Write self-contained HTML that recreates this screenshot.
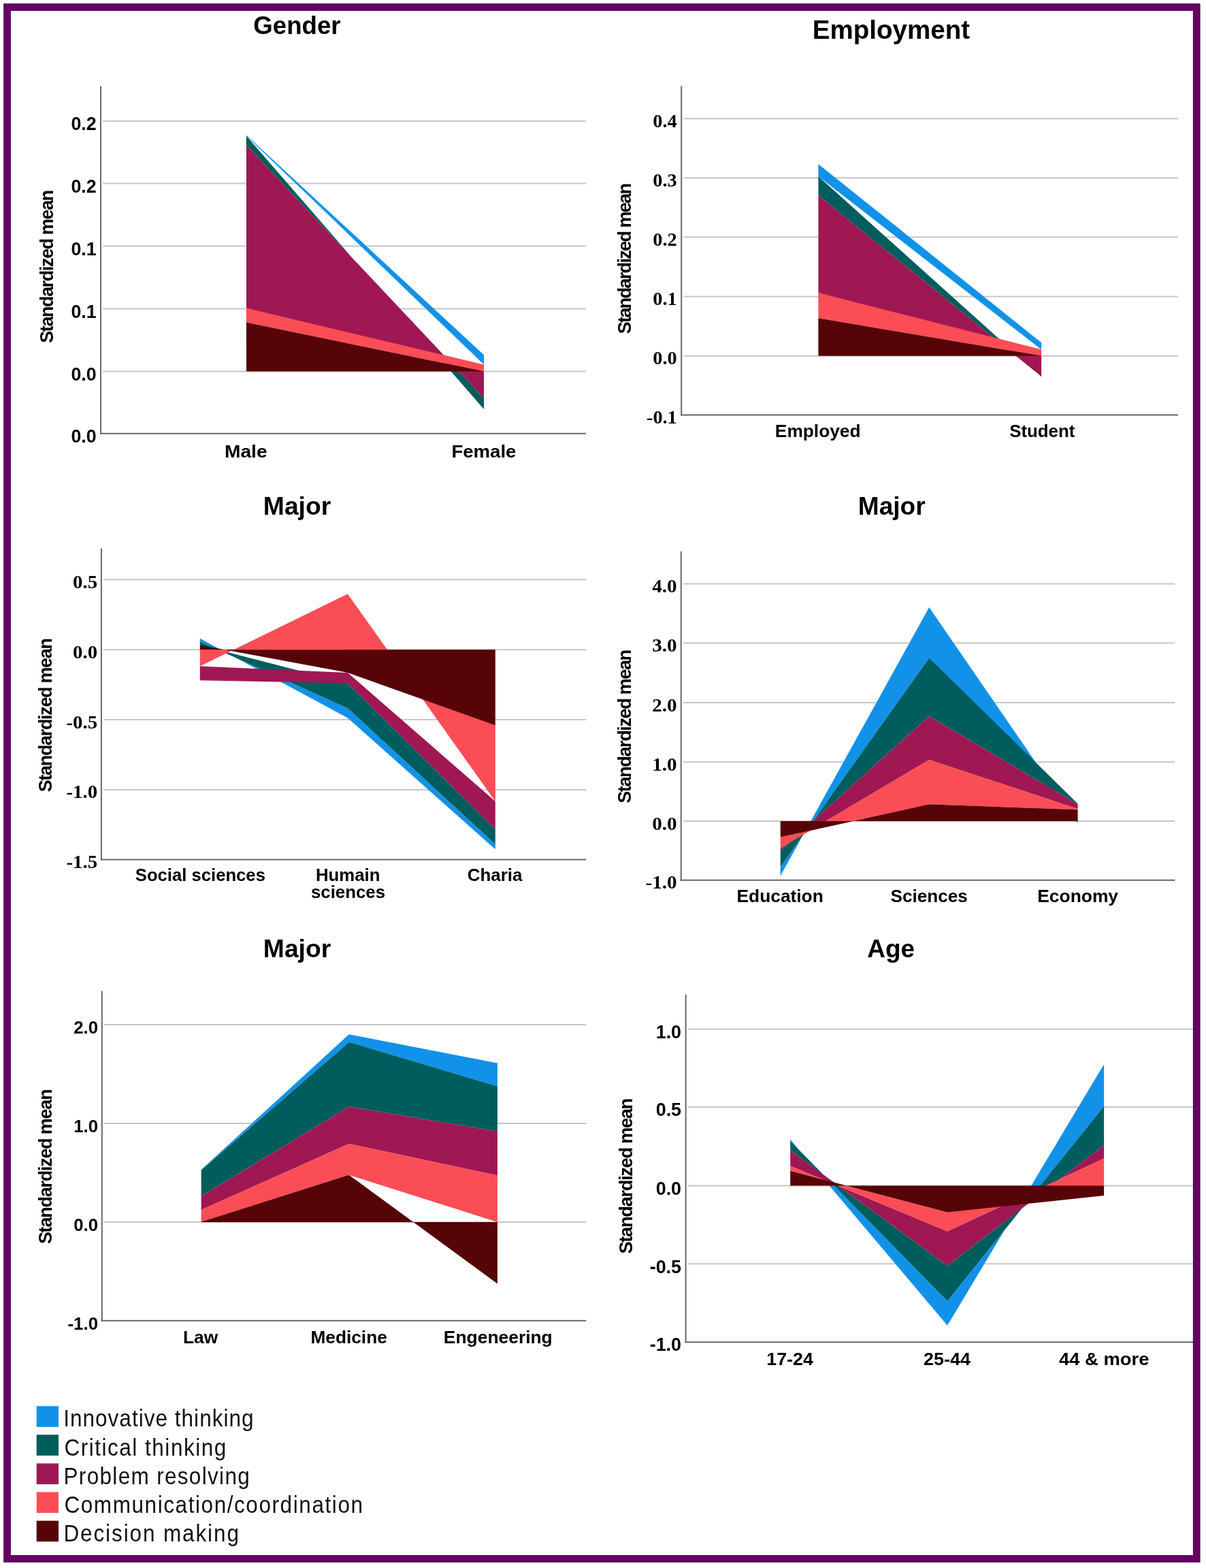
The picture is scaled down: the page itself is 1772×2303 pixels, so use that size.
<!DOCTYPE html>
<html lang="en">
<head>
<meta charset="utf-8">
<title>Standardized means of thinking skills by Gender, Employment, Major and Age</title>
<style>
html,body{margin:0;padding:0;background:#fff;}
body{width:1772px;height:2303px;overflow:hidden;}
svg{display:block;}
text{white-space:pre;}
</style>
</head>
<body>
<svg width="1772" height="2303" viewBox="0 0 1772 2303">
<rect x="0" y="0" width="1772" height="2303" fill="#ffffff"/>
<line x1="151.00" y1="177.70" x2="861.00" y2="177.70" stroke="#c6c6c6" stroke-width="2"/>
<line x1="151.00" y1="269.60" x2="861.00" y2="269.60" stroke="#c6c6c6" stroke-width="2"/>
<line x1="151.00" y1="361.50" x2="861.00" y2="361.50" stroke="#c6c6c6" stroke-width="2"/>
<line x1="151.00" y1="453.40" x2="861.00" y2="453.40" stroke="#c6c6c6" stroke-width="2"/>
<line x1="151.00" y1="545.50" x2="861.00" y2="545.50" stroke="#c6c6c6" stroke-width="2"/>
<polygon points="361.90,198.40 711.00,521.30 711.00,535.50 361.90,199.60" fill="#1192e8"/>
<polygon points="361.90,199.60 711.00,601.10 711.00,584.50 361.90,213.30" fill="#005d5d"/>
<polygon points="361.90,213.30 711.00,584.50 711.00,545.50 361.90,452.50" fill="#9f1853"/>
<polygon points="361.90,452.50 711.00,535.50 711.00,545.50 361.90,473.60" fill="#fa4d56"/>
<polygon points="361.90,473.60 711.00,545.50 711.00,545.50 361.90,545.50" fill="#570408"/>
<line x1="148.00" y1="126.70" x2="148.00" y2="637.80" stroke="#666666" stroke-width="2"/>
<line x1="147.00" y1="636.80" x2="861.00" y2="636.80" stroke="#666666" stroke-width="2"/>
<text x="104.44" y="191.10" font-family='"Liberation Sans", Arial, sans-serif' font-weight="bold" font-size="26.80" textLength="37.26" lengthAdjust="spacingAndGlyphs" fill="#000">0.2</text>
<text x="104.44" y="283.00" font-family='"Liberation Sans", Arial, sans-serif' font-weight="bold" font-size="26.80" textLength="37.26" lengthAdjust="spacingAndGlyphs" fill="#000">0.2</text>
<text x="104.44" y="374.90" font-family='"Liberation Sans", Arial, sans-serif' font-weight="bold" font-size="26.80" textLength="37.26" lengthAdjust="spacingAndGlyphs" fill="#000">0.1</text>
<text x="104.44" y="466.80" font-family='"Liberation Sans", Arial, sans-serif' font-weight="bold" font-size="26.80" textLength="37.26" lengthAdjust="spacingAndGlyphs" fill="#000">0.1</text>
<text x="104.44" y="558.90" font-family='"Liberation Sans", Arial, sans-serif' font-weight="bold" font-size="26.80" textLength="37.26" lengthAdjust="spacingAndGlyphs" fill="#000">0.0</text>
<text x="104.44" y="650.20" font-family='"Liberation Sans", Arial, sans-serif' font-weight="bold" font-size="26.80" textLength="37.26" lengthAdjust="spacingAndGlyphs" fill="#000">0.0</text>
<text x="372.33" y="49.50" font-family='"Liberation Sans", Arial, sans-serif' font-weight="bold" font-size="36.50" textLength="128.25" lengthAdjust="spacingAndGlyphs" fill="#000">Gender</text>
<text x="0" y="0" transform="translate(78.00 503.81) rotate(-90)" font-family='"Liberation Sans", Arial, sans-serif' font-weight="bold" font-size="26.90" textLength="225.00" lengthAdjust="spacing" fill="#000">Standardized mean</text>
<text x="329.97" y="671.60" font-family='"Liberation Sans", Arial, sans-serif' font-weight="bold" font-size="26.50" textLength="62.61" lengthAdjust="spacingAndGlyphs" fill="#000">Male</text>
<text x="663.41" y="671.60" font-family='"Liberation Sans", Arial, sans-serif' font-weight="bold" font-size="26.50" textLength="94.99" lengthAdjust="spacingAndGlyphs" fill="#000">Female</text>
<line x1="1004.20" y1="174.20" x2="1731.00" y2="174.20" stroke="#c6c6c6" stroke-width="2"/>
<line x1="1004.20" y1="261.30" x2="1731.00" y2="261.30" stroke="#c6c6c6" stroke-width="2"/>
<line x1="1004.20" y1="348.20" x2="1731.00" y2="348.20" stroke="#c6c6c6" stroke-width="2"/>
<line x1="1004.20" y1="435.50" x2="1731.00" y2="435.50" stroke="#c6c6c6" stroke-width="2"/>
<line x1="1004.20" y1="522.70" x2="1731.00" y2="522.70" stroke="#c6c6c6" stroke-width="2"/>
<polygon points="1202.40,241.00 1530.10,503.20 1530.10,513.40 1202.40,259.00" fill="#1192e8"/>
<polygon points="1202.40,259.00 1530.10,553.50 1530.10,552.90 1202.40,287.00" fill="#005d5d"/>
<polygon points="1202.40,287.00 1530.10,552.90 1530.10,522.70 1202.40,430.00" fill="#9f1853"/>
<polygon points="1202.40,430.00 1530.10,513.40 1530.10,522.70 1202.40,467.30" fill="#fa4d56"/>
<polygon points="1202.40,467.30 1530.10,522.70 1530.10,522.70 1202.40,522.70" fill="#570408"/>
<line x1="1001.20" y1="126.60" x2="1001.20" y2="610.60" stroke="#666666" stroke-width="2"/>
<line x1="1000.20" y1="609.60" x2="1731.00" y2="609.60" stroke="#666666" stroke-width="2"/>
<text x="959.39" y="186.70" font-family='"Liberation Serif", "Times New Roman", serif' font-weight="bold" font-size="27.50" textLength="35.41" lengthAdjust="spacingAndGlyphs" fill="#000">0.4</text>
<text x="959.39" y="273.80" font-family='"Liberation Serif", "Times New Roman", serif' font-weight="bold" font-size="27.50" textLength="35.41" lengthAdjust="spacingAndGlyphs" fill="#000">0.3</text>
<text x="959.39" y="360.70" font-family='"Liberation Serif", "Times New Roman", serif' font-weight="bold" font-size="27.50" textLength="35.41" lengthAdjust="spacingAndGlyphs" fill="#000">0.2</text>
<text x="959.39" y="448.00" font-family='"Liberation Serif", "Times New Roman", serif' font-weight="bold" font-size="27.50" textLength="35.41" lengthAdjust="spacingAndGlyphs" fill="#000">0.1</text>
<text x="959.39" y="535.20" font-family='"Liberation Serif", "Times New Roman", serif' font-weight="bold" font-size="27.50" textLength="35.41" lengthAdjust="spacingAndGlyphs" fill="#000">0.0</text>
<text x="949.96" y="622.10" font-family='"Liberation Serif", "Times New Roman", serif' font-weight="bold" font-size="27.50" textLength="44.84" lengthAdjust="spacingAndGlyphs" fill="#000">-0.1</text>
<text x="1193.80" y="57.10" font-family='"Liberation Sans", Arial, sans-serif' font-weight="bold" font-size="38.50" textLength="231.23" lengthAdjust="spacingAndGlyphs" fill="#000">Employment</text>
<text x="0" y="0" transform="translate(927.40 490.52) rotate(-90)" font-family='"Liberation Sans", Arial, sans-serif' font-weight="bold" font-size="27.40" textLength="221.74" lengthAdjust="spacing" fill="#000">Standardized mean</text>
<text x="1138.89" y="642.00" font-family='"Liberation Sans", Arial, sans-serif' font-weight="bold" font-size="25.80" textLength="125.69" lengthAdjust="spacingAndGlyphs" fill="#000">Employed</text>
<text x="1483.23" y="642.00" font-family='"Liberation Sans", Arial, sans-serif' font-weight="bold" font-size="25.80" textLength="96.08" lengthAdjust="spacingAndGlyphs" fill="#000">Student</text>
<line x1="151.90" y1="851.30" x2="861.30" y2="851.30" stroke="#c6c6c6" stroke-width="2"/>
<line x1="151.90" y1="954.30" x2="861.30" y2="954.30" stroke="#c6c6c6" stroke-width="2"/>
<line x1="151.90" y1="1057.10" x2="861.30" y2="1057.10" stroke="#c6c6c6" stroke-width="2"/>
<line x1="151.90" y1="1160.00" x2="861.30" y2="1160.00" stroke="#c6c6c6" stroke-width="2"/>
<polygon points="293.80,937.70 510.90,1054.40 727.80,1247.60 727.80,1239.90 510.90,1040.30 293.80,942.30" fill="#1192e8"/>
<polygon points="293.80,942.30 510.90,1040.30 727.80,1239.90 727.80,1218.00 510.90,1003.60 293.80,947.40" fill="#005d5d"/>
<polygon points="293.80,999.30 510.90,1003.60 727.80,1218.00 727.80,1177.00 510.90,988.00 293.80,978.50" fill="#9f1853"/>
<polygon points="293.80,978.50 510.90,872.40 727.80,1177.00 727.80,1065.30 510.90,954.30 293.80,954.30" fill="#fa4d56"/>
<polygon points="293.80,947.40 510.90,988.00 727.80,1065.30 727.80,954.30 510.90,954.30 293.80,954.30" fill="#570408"/>
<line x1="148.90" y1="805.50" x2="148.90" y2="1263.50" stroke="#666666" stroke-width="2"/>
<line x1="147.90" y1="1262.50" x2="861.30" y2="1262.50" stroke="#666666" stroke-width="2"/>
<text x="107.11" y="863.70" font-family='"Liberation Serif", "Times New Roman", serif' font-weight="bold" font-size="27.50" textLength="36.09" lengthAdjust="spacingAndGlyphs" fill="#000">0.5</text>
<text x="107.11" y="966.70" font-family='"Liberation Serif", "Times New Roman", serif' font-weight="bold" font-size="27.50" textLength="36.09" lengthAdjust="spacingAndGlyphs" fill="#000">0.0</text>
<text x="97.49" y="1069.50" font-family='"Liberation Serif", "Times New Roman", serif' font-weight="bold" font-size="27.50" textLength="45.71" lengthAdjust="spacingAndGlyphs" fill="#000">-0.5</text>
<text x="97.49" y="1172.40" font-family='"Liberation Serif", "Times New Roman", serif' font-weight="bold" font-size="27.50" textLength="45.71" lengthAdjust="spacingAndGlyphs" fill="#000">-1.0</text>
<text x="97.49" y="1274.90" font-family='"Liberation Serif", "Times New Roman", serif' font-weight="bold" font-size="27.50" textLength="45.71" lengthAdjust="spacingAndGlyphs" fill="#000">-1.5</text>
<text x="386.88" y="755.60" font-family='"Liberation Sans", Arial, sans-serif' font-weight="bold" font-size="36.50" textLength="99.27" lengthAdjust="spacingAndGlyphs" fill="#000">Major</text>
<text x="0" y="0" transform="translate(75.80 1163.21) rotate(-90)" font-family='"Liberation Sans", Arial, sans-serif' font-weight="bold" font-size="26.90" textLength="226.10" lengthAdjust="spacing" fill="#000">Standardized mean</text>
<text x="198.83" y="1293.60" font-family='"Liberation Sans", Arial, sans-serif' font-weight="bold" font-size="25.60" textLength="191.08" lengthAdjust="spacingAndGlyphs" fill="#000">Social sciences</text>
<text x="464.03" y="1293.60" font-family='"Liberation Sans", Arial, sans-serif' font-weight="bold" font-size="25.60" textLength="94.37" lengthAdjust="spacingAndGlyphs" fill="#000">Humain</text>
<text x="457.00" y="1318.60" font-family='"Liberation Sans", Arial, sans-serif' font-weight="bold" font-size="25.60" textLength="109.05" lengthAdjust="spacingAndGlyphs" fill="#000">sciences</text>
<text x="686.87" y="1293.60" font-family='"Liberation Sans", Arial, sans-serif' font-weight="bold" font-size="25.60" textLength="80.44" lengthAdjust="spacingAndGlyphs" fill="#000">Charia</text>
<line x1="1003.70" y1="857.50" x2="1726.20" y2="857.50" stroke="#c6c6c6" stroke-width="2"/>
<line x1="1003.70" y1="944.60" x2="1726.20" y2="944.60" stroke="#c6c6c6" stroke-width="2"/>
<line x1="1003.70" y1="1032.00" x2="1726.20" y2="1032.00" stroke="#c6c6c6" stroke-width="2"/>
<line x1="1003.70" y1="1119.30" x2="1726.20" y2="1119.30" stroke="#c6c6c6" stroke-width="2"/>
<line x1="1003.70" y1="1206.00" x2="1726.20" y2="1206.00" stroke="#c6c6c6" stroke-width="2"/>
<polygon points="1146.70,1286.40 1365.20,892.10 1583.60,1209.30 1583.60,1206.00 1365.20,966.40 1146.70,1273.30" fill="#1192e8"/>
<polygon points="1146.70,1273.30 1365.20,966.40 1583.60,1180.50 1583.60,1181.20 1365.20,1052.00 1146.70,1248.90" fill="#005d5d"/>
<polygon points="1146.70,1248.90 1365.20,1052.00 1583.60,1181.20 1583.60,1188.10 1365.20,1115.90 1146.70,1245.70" fill="#9f1853"/>
<polygon points="1146.70,1245.70 1365.20,1115.90 1583.60,1188.10 1583.60,1189.30 1365.20,1181.30 1146.70,1229.60" fill="#fa4d56"/>
<polygon points="1146.70,1229.60 1365.20,1181.30 1583.60,1189.30 1583.60,1206.00 1365.20,1206.00 1146.70,1206.00" fill="#570408"/>
<line x1="1000.70" y1="809.70" x2="1000.70" y2="1293.80" stroke="#666666" stroke-width="2"/>
<line x1="999.70" y1="1292.80" x2="1726.20" y2="1292.80" stroke="#666666" stroke-width="2"/>
<text x="958.26" y="870.00" font-family='"Liberation Serif", "Times New Roman", serif' font-weight="bold" font-size="27.50" textLength="36.44" lengthAdjust="spacingAndGlyphs" fill="#000">4.0</text>
<text x="958.26" y="957.10" font-family='"Liberation Serif", "Times New Roman", serif' font-weight="bold" font-size="27.50" textLength="36.44" lengthAdjust="spacingAndGlyphs" fill="#000">3.0</text>
<text x="958.26" y="1044.50" font-family='"Liberation Serif", "Times New Roman", serif' font-weight="bold" font-size="27.50" textLength="36.44" lengthAdjust="spacingAndGlyphs" fill="#000">2.0</text>
<text x="958.26" y="1131.80" font-family='"Liberation Serif", "Times New Roman", serif' font-weight="bold" font-size="27.50" textLength="36.44" lengthAdjust="spacingAndGlyphs" fill="#000">1.0</text>
<text x="958.26" y="1218.50" font-family='"Liberation Serif", "Times New Roman", serif' font-weight="bold" font-size="27.50" textLength="36.44" lengthAdjust="spacingAndGlyphs" fill="#000">0.0</text>
<text x="948.55" y="1305.30" font-family='"Liberation Serif", "Times New Roman", serif' font-weight="bold" font-size="27.50" textLength="46.15" lengthAdjust="spacingAndGlyphs" fill="#000">-1.0</text>
<text x="1260.89" y="755.80" font-family='"Liberation Sans", Arial, sans-serif' font-weight="bold" font-size="36.50" textLength="98.75" lengthAdjust="spacingAndGlyphs" fill="#000">Major</text>
<text x="0" y="0" transform="translate(927.40 1179.82) rotate(-90)" font-family='"Liberation Sans", Arial, sans-serif' font-weight="bold" font-size="27.20" textLength="226.02" lengthAdjust="spacing" fill="#000">Standardized mean</text>
<text x="1082.59" y="1325.40" font-family='"Liberation Sans", Arial, sans-serif' font-weight="bold" font-size="25.80" textLength="127.15" lengthAdjust="spacingAndGlyphs" fill="#000">Education</text>
<text x="1308.52" y="1325.40" font-family='"Liberation Sans", Arial, sans-serif' font-weight="bold" font-size="25.80" textLength="113.27" lengthAdjust="spacingAndGlyphs" fill="#000">Sciences</text>
<text x="1524.28" y="1325.40" font-family='"Liberation Sans", Arial, sans-serif' font-weight="bold" font-size="25.80" textLength="118.78" lengthAdjust="spacingAndGlyphs" fill="#000">Economy</text>
<line x1="152.80" y1="1505.00" x2="861.30" y2="1505.00" stroke="#c6c6c6" stroke-width="2"/>
<line x1="152.80" y1="1650.10" x2="861.30" y2="1650.10" stroke="#c6c6c6" stroke-width="2"/>
<line x1="152.80" y1="1794.90" x2="861.30" y2="1794.90" stroke="#c6c6c6" stroke-width="2"/>
<polygon points="295.60,1718.10 512.80,1519.20 730.90,1561.50 730.90,1595.60 512.80,1530.50 295.60,1719.10" fill="#1192e8"/>
<polygon points="295.60,1719.10 512.80,1530.50 730.90,1595.60 730.90,1661.80 512.80,1625.60 295.60,1756.90" fill="#005d5d"/>
<polygon points="295.60,1756.90 512.80,1625.60 730.90,1661.80 730.90,1726.50 512.80,1680.00 295.60,1777.10" fill="#9f1853"/>
<polygon points="295.60,1777.10 512.80,1680.00 730.90,1726.50 730.90,1794.90 512.80,1725.70 295.60,1794.60" fill="#fa4d56"/>
<polygon points="295.60,1794.60 512.80,1725.70 730.90,1885.50 730.90,1794.90 512.80,1794.90 295.60,1794.90" fill="#570408"/>
<line x1="149.80" y1="1455.50" x2="149.80" y2="1940.80" stroke="#666666" stroke-width="2"/>
<line x1="148.80" y1="1939.80" x2="861.30" y2="1939.80" stroke="#666666" stroke-width="2"/>
<text x="108.13" y="1517.90" font-family='"Liberation Sans", Arial, sans-serif' font-weight="bold" font-size="26.60" textLength="35.87" lengthAdjust="spacingAndGlyphs" fill="#000">2.0</text>
<text x="108.13" y="1663.00" font-family='"Liberation Sans", Arial, sans-serif' font-weight="bold" font-size="26.60" textLength="35.87" lengthAdjust="spacingAndGlyphs" fill="#000">1.0</text>
<text x="108.13" y="1807.80" font-family='"Liberation Sans", Arial, sans-serif' font-weight="bold" font-size="26.60" textLength="35.87" lengthAdjust="spacingAndGlyphs" fill="#000">0.0</text>
<text x="99.54" y="1952.70" font-family='"Liberation Sans", Arial, sans-serif' font-weight="bold" font-size="26.60" textLength="44.46" lengthAdjust="spacingAndGlyphs" fill="#000">-1.0</text>
<text x="386.88" y="1405.60" font-family='"Liberation Sans", Arial, sans-serif' font-weight="bold" font-size="36.50" textLength="99.27" lengthAdjust="spacingAndGlyphs" fill="#000">Major</text>
<text x="0" y="0" transform="translate(76.00 1827.11) rotate(-90)" font-family='"Liberation Sans", Arial, sans-serif' font-weight="bold" font-size="26.90" textLength="227.70" lengthAdjust="spacing" fill="#000">Standardized mean</text>
<text x="268.98" y="1972.90" font-family='"Liberation Sans", Arial, sans-serif' font-weight="bold" font-size="25.80" textLength="51.41" lengthAdjust="spacingAndGlyphs" fill="#000">Law</text>
<text x="456.49" y="1972.90" font-family='"Liberation Sans", Arial, sans-serif' font-weight="bold" font-size="25.80" textLength="112.30" lengthAdjust="spacingAndGlyphs" fill="#000">Medicine</text>
<text x="651.88" y="1972.90" font-family='"Liberation Sans", Arial, sans-serif' font-weight="bold" font-size="25.80" textLength="159.88" lengthAdjust="spacingAndGlyphs" fill="#000">Engeneering</text>
<line x1="1010.60" y1="1511.40" x2="1753.00" y2="1511.40" stroke="#c6c6c6" stroke-width="2"/>
<line x1="1010.60" y1="1625.90" x2="1753.00" y2="1625.90" stroke="#c6c6c6" stroke-width="2"/>
<line x1="1010.60" y1="1741.50" x2="1753.00" y2="1741.50" stroke="#c6c6c6" stroke-width="2"/>
<line x1="1010.60" y1="1856.30" x2="1753.00" y2="1856.30" stroke="#c6c6c6" stroke-width="2"/>
<polygon points="1161.20,1673.50 1392.00,1946.80 1622.10,1563.20 1622.10,1624.70 1392.00,1911.00 1161.20,1676.00" fill="#1192e8"/>
<polygon points="1161.20,1676.00 1392.00,1911.00 1622.10,1624.70 1622.10,1682.10 1392.00,1858.90 1161.20,1689.80" fill="#005d5d"/>
<polygon points="1161.20,1689.80 1392.00,1858.90 1622.10,1682.10 1622.10,1701.60 1392.00,1808.40 1161.20,1712.50" fill="#9f1853"/>
<polygon points="1161.20,1712.50 1392.00,1808.40 1622.10,1701.60 1622.10,1741.50 1392.00,1780.50 1161.20,1719.80" fill="#fa4d56"/>
<polygon points="1161.20,1719.80 1392.00,1780.50 1622.10,1756.00 1622.10,1741.50 1392.00,1741.50 1161.20,1741.50" fill="#570408"/>
<line x1="1007.60" y1="1460.80" x2="1007.60" y2="1972.20" stroke="#666666" stroke-width="2"/>
<line x1="1006.60" y1="1971.20" x2="1753.00" y2="1971.20" stroke="#666666" stroke-width="2"/>
<text x="963.67" y="1524.60" font-family='"Liberation Sans", Arial, sans-serif' font-weight="bold" font-size="27.20" textLength="37.43" lengthAdjust="spacingAndGlyphs" fill="#000">1.0</text>
<text x="963.67" y="1639.10" font-family='"Liberation Sans", Arial, sans-serif' font-weight="bold" font-size="27.20" textLength="37.43" lengthAdjust="spacingAndGlyphs" fill="#000">0.5</text>
<text x="963.67" y="1754.70" font-family='"Liberation Sans", Arial, sans-serif' font-weight="bold" font-size="27.20" textLength="37.43" lengthAdjust="spacingAndGlyphs" fill="#000">0.0</text>
<text x="954.70" y="1869.50" font-family='"Liberation Sans", Arial, sans-serif' font-weight="bold" font-size="27.20" textLength="46.40" lengthAdjust="spacingAndGlyphs" fill="#000">-0.5</text>
<text x="954.70" y="1984.40" font-family='"Liberation Sans", Arial, sans-serif' font-weight="bold" font-size="27.20" textLength="46.40" lengthAdjust="spacingAndGlyphs" fill="#000">-1.0</text>
<text x="1274.28" y="1405.60" font-family='"Liberation Sans", Arial, sans-serif' font-weight="bold" font-size="36.50" textLength="69.68" lengthAdjust="spacingAndGlyphs" fill="#000">Age</text>
<text x="0" y="0" transform="translate(929.30 1841.52) rotate(-90)" font-family='"Liberation Sans", Arial, sans-serif' font-weight="bold" font-size="27.40" textLength="228.84" lengthAdjust="spacing" fill="#000">Standardized mean</text>
<text x="1126.29" y="2005.00" font-family='"Liberation Sans", Arial, sans-serif' font-weight="bold" font-size="25.80" textLength="68.51" lengthAdjust="spacingAndGlyphs" fill="#000">17-24</text>
<text x="1356.96" y="2005.00" font-family='"Liberation Sans", Arial, sans-serif' font-weight="bold" font-size="25.80" textLength="68.95" lengthAdjust="spacingAndGlyphs" fill="#000">25-44</text>
<text x="1555.99" y="2005.00" font-family='"Liberation Sans", Arial, sans-serif' font-weight="bold" font-size="25.80" textLength="132.48" lengthAdjust="spacingAndGlyphs" fill="#000">44 &amp; more</text>
<rect x="53.7" y="2065.20" width="32.3" height="30.6" fill="#1192e8"/>
<text x="0" y="0" transform="translate(93.17 2095.40) scale(0.900 1)" font-family='"Liberation Sans", Arial, sans-serif' font-weight="normal" font-size="35.00" textLength="310.43" lengthAdjust="spacing" fill="#111">Innovative thinking</text>
<rect x="53.7" y="2107.30" width="32.3" height="30.6" fill="#005d5d"/>
<text x="0" y="0" transform="translate(94.42 2137.55) scale(0.900 1)" font-family='"Liberation Sans", Arial, sans-serif' font-weight="normal" font-size="35.00" textLength="264.26" lengthAdjust="spacing" fill="#111">Critical thinking</text>
<rect x="53.7" y="2149.40" width="32.3" height="30.6" fill="#9f1853"/>
<text x="0" y="0" transform="translate(93.48 2179.70) scale(0.900 1)" font-family='"Liberation Sans", Arial, sans-serif' font-weight="normal" font-size="35.00" textLength="303.70" lengthAdjust="spacing" fill="#111">Problem resolving</text>
<rect x="53.7" y="2191.50" width="32.3" height="30.6" fill="#fa4d56"/>
<text x="0" y="0" transform="translate(94.42 2221.85) scale(0.900 1)" font-family='"Liberation Sans", Arial, sans-serif' font-weight="normal" font-size="35.00" textLength="487.31" lengthAdjust="spacing" fill="#111">Communication/coordination</text>
<rect x="53.7" y="2233.60" width="32.3" height="30.6" fill="#570408"/>
<text x="0" y="0" transform="translate(93.48 2264.00) scale(0.900 1)" font-family='"Liberation Sans", Arial, sans-serif' font-weight="normal" font-size="35.00" textLength="286.02" lengthAdjust="spacing" fill="#111">Decision making</text>
<rect x="10.55" y="10.55" width="1747.6" height="2278.85" fill="none" stroke="#650065" stroke-width="10.5"/>
<rect x="5.9" y="5.85" width="1756.9" height="2288.2" fill="none" stroke="#48003f" stroke-opacity="0.75" stroke-width="1.2"/>
<rect x="15.2" y="15.25" width="1738.3" height="2269.5" fill="none" stroke="#48003f" stroke-opacity="0.75" stroke-width="1.2"/>
</svg>
</body>
</html>
